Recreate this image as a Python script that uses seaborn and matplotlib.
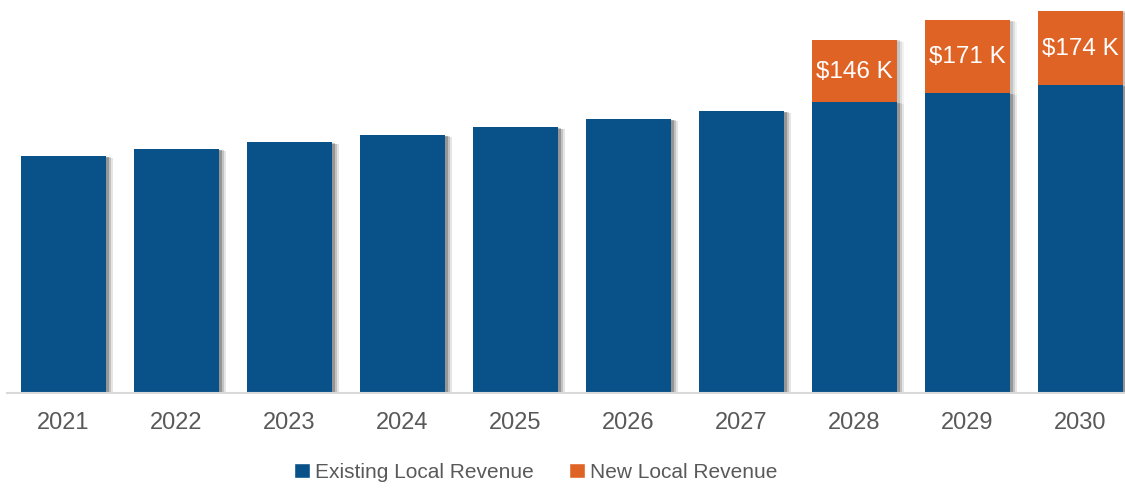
import pandas as pd
import matplotlib
matplotlib.use("Agg")
import matplotlib.pyplot as plt
import matplotlib.patheffects as pe
from matplotlib.patches import Patch
import seaborn as sns

# Data (thousands of $)
YEARS = ["2021", "2022", "2023", "2024", "2025", "2026", "2027", "2028", "2029", "2030"]
EXISTING = [555, 571, 587, 604, 622, 641, 660, 681, 702, 721]
NEW = [0, 0, 0, 0, 0, 0, 0, 146, 171, 174]
NEW_LABELS = ["", "", "", "", "", "", "", "$146 K", "$171 K", "$174 K"]

BLUE = "#085289"
ORANGE = "#E06326"
GREY_TEXT = "#595959"

df = pd.DataFrame({"Year": YEARS, "Existing": EXISTING, "New": NEW})
df["Total"] = df["Existing"] + df["New"]

sns.set_style("white")
plt.rcParams["font.family"] = ["Liberation Sans", "DejaVu Sans"]

fig = plt.figure(figsize=(11.25, 4.89), dpi=100)
ax = fig.add_axes([7 / 1125, 95 / 489, 1118 / 1125, 394 / 489])

shadow = [
    pe.SimplePatchShadow(offset=(5, -1.5), shadow_rgbFace="#000000", alpha=0.05),
    pe.SimplePatchShadow(offset=(3.5, -1), shadow_rgbFace="#000000", alpha=0.08),
    pe.SimplePatchShadow(offset=(2, -0.5), shadow_rgbFace="#000000", alpha=0.12),
    pe.Normal(),
]

# stacked: total (orange) first, existing (blue) over it
sns.barplot(data=df, x="Year", y="Total", color=ORANGE, width=0.75,
            saturation=1, ax=ax)
sns.barplot(data=df, x="Year", y="Existing", color=BLUE, width=0.75,
            saturation=1, ax=ax)
for bar in ax.patches:
    bar.set_path_effects(shadow)
    bar.set_edgecolor("none")

# labels on the new revenue segments
for i, lab in enumerate(NEW_LABELS):
    if lab:
        ax.text(i, EXISTING[i] + NEW[i] / 2, lab, ha="center", va="center",
                color="white", fontsize=17.5)

ax.set_xlim(-0.5, (1125 - 63.5) / 113)
ax.set_ylim(0, 922)
ax.set_xlabel("")
ax.set_ylabel("")
ax.set_yticks([])
for side in ["left", "right", "top"]:
    ax.spines[side].set_visible(False)
ax.spines["bottom"].set_color("#D9D9D9")
ax.spines["bottom"].set_linewidth(1.5)
ax.tick_params(axis="x", length=0, pad=13, labelsize=17, labelcolor=GREY_TEXT)

handles = [Patch(facecolor=BLUE, label="Existing Local Revenue"),
           Patch(facecolor=ORANGE, label="New Local Revenue")]
fig.legend(handles=handles, loc="center", bbox_to_anchor=(536 / 1125, 1 - 473 / 489),
           ncol=2, frameon=False, fontsize=15, labelcolor=GREY_TEXT,
           handlelength=0.75, handleheight=0.75, handletextpad=0.25,
           columnspacing=1.7)

fig.savefig("out.png", dpi=100)
